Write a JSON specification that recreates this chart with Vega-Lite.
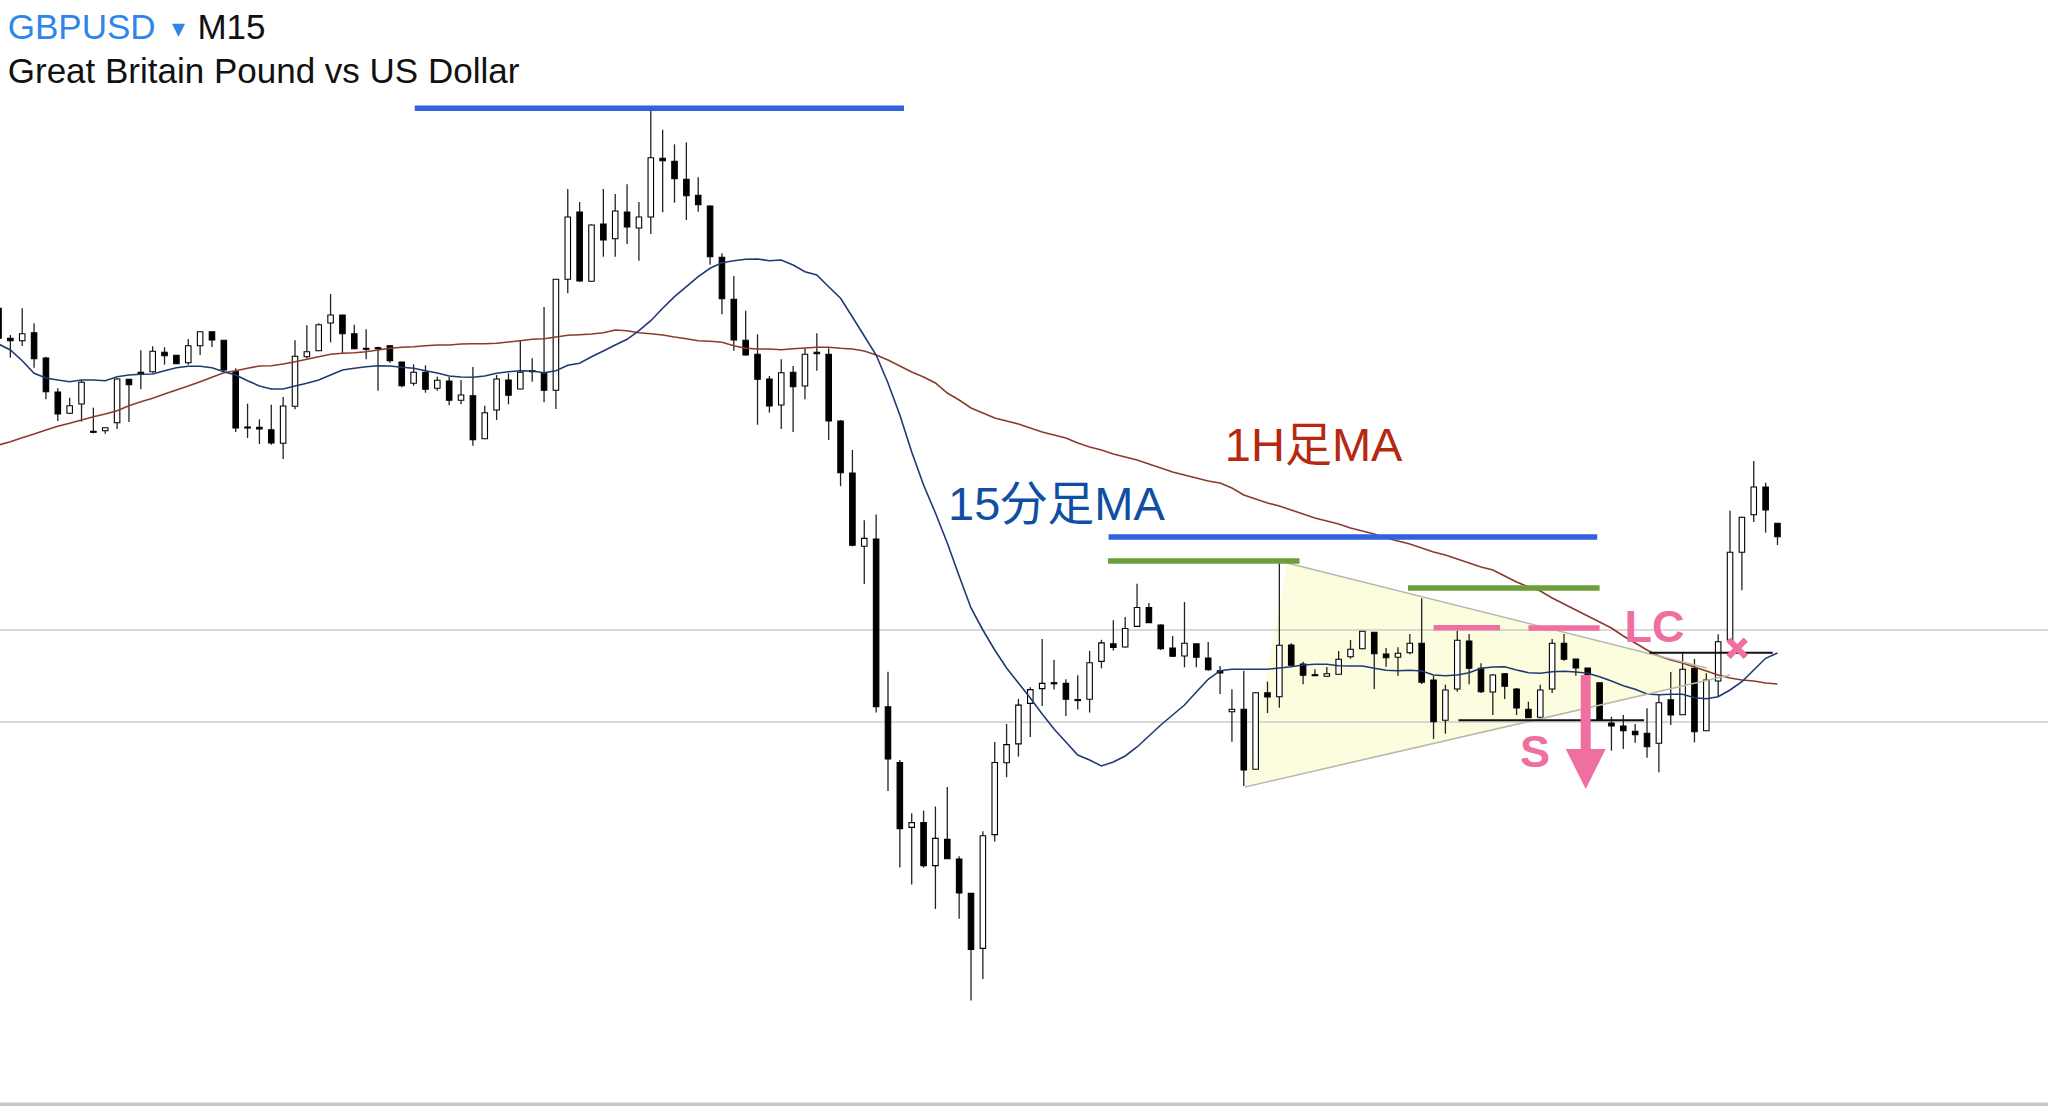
{
  "$schema": "https://vega.github.io/schema/vega-lite/v6.json",
  "width": 2048,
  "height": 1106,
  "padding": 0,
  "autosize": {"type": "none"},
  "background": "#ffffff",
  "config": {"view": {"stroke": null}},
  "datasets": {
    "candles": [
      {"i":0,"open":1.27977,"high":1.27977,"low":1.27677,"close":1.27677},
      {"i":1,"open":1.27677,"high":1.2771,"low":1.27483,"close":1.27653},
      {"i":2,"open":1.27653,"high":1.27977,"low":1.276,"close":1.27723},
      {"i":3,"open":1.27733,"high":1.27827,"low":1.27383,"close":1.27473},
      {"i":4,"open":1.2748,"high":1.27493,"low":1.27067,"close":1.27143},
      {"i":5,"open":1.2714,"high":1.27177,"low":1.2685,"close":1.2692},
      {"i":6,"open":1.26927,"high":1.27083,"low":1.2692,"close":1.27003},
      {"i":7,"open":1.2702,"high":1.2726,"low":1.26843,"close":1.27237},
      {"i":8,"open":1.26747,"high":1.26983,"low":1.26727,"close":1.26737},
      {"i":9,"open":1.26753,"high":1.26783,"low":1.26723,"close":1.26783},
      {"i":10,"open":1.26833,"high":1.27277,"low":1.2677,"close":1.2727},
      {"i":11,"open":1.27267,"high":1.27267,"low":1.2684,"close":1.27213},
      {"i":12,"open":1.27337,"high":1.27557,"low":1.27167,"close":1.27317},
      {"i":13,"open":1.27343,"high":1.27597,"low":1.27333,"close":1.27547},
      {"i":14,"open":1.27537,"high":1.27587,"low":1.27413,"close":1.27503},
      {"i":15,"open":1.27507,"high":1.2751,"low":1.2742,"close":1.27423},
      {"i":16,"open":1.27433,"high":1.2767,"low":1.27413,"close":1.27603},
      {"i":17,"open":1.27603,"high":1.27743,"low":1.2751,"close":1.27743},
      {"i":18,"open":1.27743,"high":1.27743,"low":1.2759,"close":1.2766},
      {"i":19,"open":1.27657,"high":1.27657,"low":1.27343,"close":1.2736},
      {"i":20,"open":1.27343,"high":1.27377,"low":1.2674,"close":1.2678},
      {"i":21,"open":1.2679,"high":1.27023,"low":1.2668,"close":1.2678},
      {"i":22,"open":1.26787,"high":1.26867,"low":1.2662,"close":1.2677},
      {"i":23,"open":1.26763,"high":1.27013,"low":1.26613,"close":1.2663},
      {"i":24,"open":1.26627,"high":1.2709,"low":1.2647,"close":1.27},
      {"i":25,"open":1.26997,"high":1.27657,"low":1.26967,"close":1.27497},
      {"i":26,"open":1.27493,"high":1.27807,"low":1.27477,"close":1.27543},
      {"i":27,"open":1.27553,"high":1.27827,"low":1.2755,"close":1.27813},
      {"i":28,"open":1.2783,"high":1.2812,"low":1.27637,"close":1.2791},
      {"i":29,"open":1.2791,"high":1.2791,"low":1.27527,"close":1.27723},
      {"i":30,"open":1.27723,"high":1.27813,"low":1.27567,"close":1.27573},
      {"i":31,"open":1.27577,"high":1.27767,"low":1.27467,"close":1.27567},
      {"i":32,"open":1.27583,"high":1.27593,"low":1.27153,"close":1.27573},
      {"i":33,"open":1.27603,"high":1.27603,"low":1.27433,"close":1.27453},
      {"i":34,"open":1.2744,"high":1.27443,"low":1.27187,"close":1.27203},
      {"i":35,"open":1.27227,"high":1.27417,"low":1.27203,"close":1.27337},
      {"i":36,"open":1.27337,"high":1.27407,"low":1.27133,"close":1.27167},
      {"i":37,"open":1.27177,"high":1.27293,"low":1.27153,"close":1.27257},
      {"i":38,"open":1.2725,"high":1.27293,"low":1.27007,"close":1.27057},
      {"i":39,"open":1.27057,"high":1.2726,"low":1.27017,"close":1.2711},
      {"i":40,"open":1.27103,"high":1.2739,"low":1.26603,"close":1.26663},
      {"i":41,"open":1.26673,"high":1.27003,"low":1.26673,"close":1.26933},
      {"i":42,"open":1.2696,"high":1.2731,"low":1.2686,"close":1.2727},
      {"i":43,"open":1.2726,"high":1.27327,"low":1.27017,"close":1.27107},
      {"i":44,"open":1.2717,"high":1.2766,"low":1.27167,"close":1.27337},
      {"i":45,"open":1.27353,"high":1.27477,"low":1.27243,"close":1.27343},
      {"i":46,"open":1.27327,"high":1.2799,"low":1.27037,"close":1.27157},
      {"i":47,"open":1.27157,"high":1.28267,"low":1.2697,"close":1.28267},
      {"i":48,"open":1.28267,"high":1.2917,"low":1.28127,"close":1.2889},
      {"i":49,"open":1.2894,"high":1.2904,"low":1.28243,"close":1.2825},
      {"i":50,"open":1.28247,"high":1.28817,"low":1.28243,"close":1.2881},
      {"i":51,"open":1.2882,"high":1.2917,"low":1.28493,"close":1.2866},
      {"i":52,"open":1.28673,"high":1.2912,"low":1.28493,"close":1.2895},
      {"i":53,"open":1.2894,"high":1.29217,"low":1.2862,"close":1.2879},
      {"i":54,"open":1.2878,"high":1.2904,"low":1.28453,"close":1.2889},
      {"i":55,"open":1.2889,"high":1.29953,"low":1.2872,"close":1.29483},
      {"i":56,"open":1.29477,"high":1.29763,"low":1.28937,"close":1.29453},
      {"i":57,"open":1.29447,"high":1.29617,"low":1.29033,"close":1.29273},
      {"i":58,"open":1.29267,"high":1.29637,"low":1.2886,"close":1.29103},
      {"i":59,"open":1.29107,"high":1.29287,"low":1.28943,"close":1.29013},
      {"i":60,"open":1.29,"high":1.29007,"low":1.28413,"close":1.28493},
      {"i":61,"open":1.28487,"high":1.28527,"low":1.27917,"close":1.28073},
      {"i":62,"open":1.28067,"high":1.283,"low":1.27553,"close":1.2766},
      {"i":63,"open":1.27657,"high":1.27953,"low":1.27503,"close":1.2751},
      {"i":64,"open":1.27517,"high":1.27717,"low":1.26813,"close":1.27267},
      {"i":65,"open":1.2727,"high":1.273,"low":1.26933,"close":1.27},
      {"i":66,"open":1.2701,"high":1.27467,"low":1.2677,"close":1.27333},
      {"i":67,"open":1.27337,"high":1.274,"low":1.2674,"close":1.27193},
      {"i":68,"open":1.272,"high":1.27577,"low":1.27067,"close":1.27517},
      {"i":69,"open":1.27537,"high":1.27727,"low":1.27353,"close":1.27523},
      {"i":70,"open":1.27517,"high":1.27577,"low":1.2666,"close":1.2685},
      {"i":71,"open":1.2685,"high":1.2686,"low":1.26198,"close":1.26333},
      {"i":72,"open":1.2633,"high":1.2656,"low":1.25597,"close":1.25607},
      {"i":73,"open":1.25597,"high":1.25858,"low":1.25219,"close":1.25676},
      {"i":74,"open":1.25669,"high":1.25916,"low":1.23934,"close":1.23992},
      {"i":75,"open":1.23992,"high":1.24342,"low":1.2315,"close":1.2347},
      {"i":76,"open":1.23435,"high":1.23459,"low":1.22384,"close":1.22772},
      {"i":77,"open":1.22786,"high":1.22927,"low":1.22215,"close":1.22834},
      {"i":78,"open":1.22834,"high":1.22954,"low":1.22384,"close":1.22404},
      {"i":79,"open":1.22404,"high":1.22995,"low":1.21971,"close":1.22676},
      {"i":80,"open":1.22666,"high":1.23191,"low":1.2247,"close":1.22473},
      {"i":81,"open":1.2247,"high":1.22497,"low":1.21872,"close":1.2213},
      {"i":82,"open":1.22126,"high":1.22126,"low":1.21054,"close":1.21566},
      {"i":83,"open":1.21576,"high":1.22748,"low":1.2127,"close":1.22703},
      {"i":84,"open":1.22714,"high":1.23641,"low":1.22645,"close":1.23435},
      {"i":85,"open":1.23432,"high":1.2382,"low":1.23288,"close":1.23614},
      {"i":86,"open":1.23621,"high":1.24071,"low":1.23494,"close":1.24009},
      {"i":87,"open":1.24026,"high":1.24188,"low":1.2369,"close":1.24164},
      {"i":88,"open":1.24174,"high":1.24669,"low":1.23999,"close":1.24226},
      {"i":89,"open":1.24233,"high":1.24463,"low":1.24164,"close":1.24222},
      {"i":90,"open":1.24226,"high":1.24267,"low":1.23899,"close":1.24068},
      {"i":91,"open":1.24064,"high":1.24308,"low":1.23964,"close":1.24054},
      {"i":92,"open":1.24068,"high":1.24552,"low":1.23934,"close":1.24432},
      {"i":93,"open":1.24446,"high":1.24662,"low":1.24377,"close":1.24631},
      {"i":94,"open":1.24621,"high":1.24858,"low":1.24556,"close":1.24586},
      {"i":95,"open":1.2459,"high":1.24889,"low":1.24586,"close":1.24775},
      {"i":96,"open":1.24796,"high":1.25222,"low":1.2479,"close":1.24985},
      {"i":97,"open":1.24985,"high":1.2503,"low":1.24834,"close":1.24834},
      {"i":98,"open":1.2481,"high":1.24817,"low":1.24559,"close":1.24573},
      {"i":99,"open":1.2458,"high":1.247,"low":1.2449,"close":1.24497},
      {"i":100,"open":1.245,"high":1.2504,"low":1.24387,"close":1.24628},
      {"i":101,"open":1.24621,"high":1.24621,"low":1.24387,"close":1.24487},
      {"i":102,"open":1.2448,"high":1.2464,"low":1.24353,"close":1.24363},
      {"i":103,"open":1.24353,"high":1.244,"low":1.2412,"close":1.2433},
      {"i":104,"open":1.23943,"high":1.24167,"low":1.23643,"close":1.23967},
      {"i":105,"open":1.23967,"high":1.24353,"low":1.232,"close":1.2336},
      {"i":106,"open":1.23367,"high":1.2414,"low":1.23367,"close":1.24133},
      {"i":107,"open":1.24133,"high":1.24243,"low":1.2393,"close":1.2409},
      {"i":108,"open":1.24093,"high":1.25427,"low":1.23983,"close":1.24607},
      {"i":109,"open":1.2461,"high":1.24627,"low":1.244,"close":1.24407},
      {"i":110,"open":1.2442,"high":1.24443,"low":1.24217,"close":1.24307},
      {"i":111,"open":1.24313,"high":1.24367,"low":1.243,"close":1.24303},
      {"i":112,"open":1.24297,"high":1.2439,"low":1.24297,"close":1.24323},
      {"i":113,"open":1.24317,"high":1.2455,"low":1.24317,"close":1.24467},
      {"i":114,"open":1.24493,"high":1.2466,"low":1.24473,"close":1.24567},
      {"i":115,"open":1.24573,"high":1.24747,"low":1.24567,"close":1.24747},
      {"i":116,"open":1.24737,"high":1.24737,"low":1.2417,"close":1.24523},
      {"i":117,"open":1.2452,"high":1.2458,"low":1.24393,"close":1.24483},
      {"i":118,"open":1.24487,"high":1.24587,"low":1.24303,"close":1.24527},
      {"i":119,"open":1.24533,"high":1.2472,"low":1.24517,"close":1.24627},
      {"i":120,"open":1.24627,"high":1.25077,"low":1.2422,"close":1.24237},
      {"i":121,"open":1.2426,"high":1.24303,"low":1.2367,"close":1.23843},
      {"i":122,"open":1.23857,"high":1.24213,"low":1.23723,"close":1.2416},
      {"i":123,"open":1.2417,"high":1.24753,"low":1.24143,"close":1.24657},
      {"i":124,"open":1.2465,"high":1.2472,"low":1.24217,"close":1.24377},
      {"i":125,"open":1.24377,"high":1.24427,"low":1.2413,"close":1.24143},
      {"i":126,"open":1.2414,"high":1.24317,"low":1.2391,"close":1.2431},
      {"i":127,"open":1.24323,"high":1.24327,"low":1.2407,"close":1.24197},
      {"i":128,"open":1.2417,"high":1.2418,"low":1.2391,"close":1.2398},
      {"i":129,"open":1.23967,"high":1.24043,"low":1.23883,"close":1.23883},
      {"i":130,"open":1.23887,"high":1.24213,"low":1.23883,"close":1.2416},
      {"i":131,"open":1.2417,"high":1.2467,"low":1.2413,"close":1.24627},
      {"i":132,"open":1.24627,"high":1.2472,"low":1.24453,"close":1.24467},
      {"i":133,"open":1.2447,"high":1.2447,"low":1.24303,"close":1.2438},
      {"i":134,"open":1.2438,"high":1.2438,"low":1.243,"close":1.24313},
      {"i":135,"open":1.24233,"high":1.24233,"low":1.23857,"close":1.23857},
      {"i":136,"open":1.2383,"high":1.23893,"low":1.23553,"close":1.238},
      {"i":137,"open":1.238,"high":1.2391,"low":1.2357,"close":1.23753},
      {"i":138,"open":1.23747,"high":1.2382,"low":1.23633,"close":1.23713},
      {"i":139,"open":1.23727,"high":1.23977,"low":1.23483,"close":1.23593},
      {"i":140,"open":1.23627,"high":1.2411,"low":1.23337,"close":1.24033},
      {"i":141,"open":1.24063,"high":1.2434,"low":1.2381,"close":1.2391},
      {"i":142,"open":1.23913,"high":1.24527,"low":1.23913,"close":1.24367},
      {"i":143,"open":1.24377,"high":1.2447,"low":1.23637,"close":1.23743},
      {"i":144,"open":1.23753,"high":1.24327,"low":1.23753,"close":1.2426},
      {"i":145,"open":1.2425,"high":1.24717,"low":1.24093,"close":1.24643},
      {"i":146,"open":1.2466,"high":1.25953,"low":1.2466,"close":1.25537},
      {"i":147,"open":1.25537,"high":1.25893,"low":1.25157,"close":1.25887},
      {"i":148,"open":1.25913,"high":1.2645,"low":1.2584,"close":1.2619},
      {"i":149,"open":1.2619,"high":1.26233,"low":1.25733,"close":1.2596},
      {"i":150,"open":1.25827,"high":1.25827,"low":1.2561,"close":1.25693}
    ],
    "ma": [
      {"i":0,"ma15":1.2762,"ma60":1.2661},{"i":1,"ma15":1.2756,"ma60":1.26643},{"i":2,"ma15":1.27453,"ma60":1.26683},{"i":3,"ma15":1.27327,"ma60":1.2672},{"i":4,"ma15":1.2728,"ma60":1.2676},
      {"i":5,"ma15":1.2726,"ma60":1.26797},{"i":6,"ma15":1.27243,"ma60":1.26827},{"i":7,"ma15":1.2726,"ma60":1.2686},{"i":8,"ma15":1.2726,"ma60":1.26893},{"i":9,"ma15":1.27253,"ma60":1.2692},
      {"i":10,"ma15":1.27293,"ma60":1.26953},{"i":11,"ma15":1.2731,"ma60":1.27003},{"i":12,"ma15":1.27317,"ma60":1.27043},{"i":13,"ma15":1.2732,"ma60":1.27077},{"i":14,"ma15":1.27353,"ma60":1.2712},
      {"i":15,"ma15":1.27383,"ma60":1.2716},{"i":16,"ma15":1.27397,"ma60":1.272},{"i":17,"ma15":1.27397,"ma60":1.27243},{"i":18,"ma15":1.27383,"ma60":1.27287},{"i":19,"ma15":1.27343,"ma60":1.27333},
      {"i":20,"ma15":1.2731,"ma60":1.27353},{"i":21,"ma15":1.27253,"ma60":1.27377},{"i":22,"ma15":1.272,"ma60":1.274},{"i":23,"ma15":1.2717,"ma60":1.27403},{"i":24,"ma15":1.2717,"ma60":1.2742},
      {"i":25,"ma15":1.272,"ma60":1.27443},{"i":26,"ma15":1.27227,"ma60":1.27467},{"i":27,"ma15":1.2726,"ma60":1.27493},{"i":28,"ma15":1.2731,"ma60":1.27517},{"i":29,"ma15":1.2736,"ma60":1.27527},
      {"i":30,"ma15":1.27377,"ma60":1.27533},{"i":31,"ma15":1.27393,"ma60":1.27543},{"i":32,"ma15":1.27403,"ma60":1.2756},{"i":33,"ma15":1.274,"ma60":1.27577},{"i":34,"ma15":1.27387,"ma60":1.27587},
      {"i":35,"ma15":1.27377,"ma60":1.27593},{"i":36,"ma15":1.27353,"ma60":1.27603},{"i":37,"ma15":1.2733,"ma60":1.2761},{"i":38,"ma15":1.273,"ma60":1.2761},{"i":39,"ma15":1.2729,"ma60":1.2762},
      {"i":40,"ma15":1.27287,"ma60":1.27623},{"i":41,"ma15":1.273,"ma60":1.27623},{"i":42,"ma15":1.27327,"ma60":1.27627},{"i":43,"ma15":1.27343,"ma60":1.2764},{"i":44,"ma15":1.27353,"ma60":1.27653},
      {"i":45,"ma15":1.2735,"ma60":1.27667},{"i":46,"ma15":1.27333,"ma60":1.27673},{"i":47,"ma15":1.27353,"ma60":1.2769},{"i":48,"ma15":1.27407,"ma60":1.27707},{"i":49,"ma15":1.27427,"ma60":1.27713},
      {"i":50,"ma15":1.27493,"ma60":1.2772},{"i":51,"ma15":1.2755,"ma60":1.27733},{"i":52,"ma15":1.2761,"ma60":1.2776},{"i":53,"ma15":1.27667,"ma60":1.27753},{"i":54,"ma15":1.27753,"ma60":1.27733},
      {"i":55,"ma15":1.27853,"ma60":1.27723},{"i":56,"ma15":1.27977,"ma60":1.2771},{"i":57,"ma15":1.28093,"ma60":1.2769},{"i":58,"ma15":1.28193,"ma60":1.27673},{"i":59,"ma15":1.28293,"ma60":1.27653},
      {"i":60,"ma15":1.28377,"ma60":1.27647},{"i":61,"ma15":1.28433,"ma60":1.27637},{"i":62,"ma15":1.28453,"ma60":1.27603},{"i":63,"ma15":1.28467,"ma60":1.27577},{"i":64,"ma15":1.2847,"ma60":1.2757},
      {"i":65,"ma15":1.28453,"ma60":1.2757},{"i":66,"ma15":1.2846,"ma60":1.27563},{"i":67,"ma15":1.2841,"ma60":1.27573},{"i":68,"ma15":1.28343,"ma60":1.2758},{"i":69,"ma15":1.2831,"ma60":1.27587},
      {"i":70,"ma15":1.28193,"ma60":1.27587},{"i":71,"ma15":1.28077,"ma60":1.27577},{"i":72,"ma15":1.2789,"ma60":1.2757},{"i":73,"ma15":1.277,"ma60":1.2755},{"i":74,"ma15":1.2751,"ma60":1.2751},
      {"i":75,"ma15":1.2723,"ma60":1.2746},{"i":76,"ma15":1.2691,"ma60":1.274},{"i":77,"ma15":1.2654,"ma60":1.2734},{"i":78,"ma15":1.2621,"ma60":1.2729},{"i":79,"ma15":1.2593,"ma60":1.2723},
      {"i":80,"ma15":1.2563,"ma60":1.2713},{"i":81,"ma15":1.253,"ma60":1.2706},{"i":82,"ma15":1.2498,"ma60":1.2698},{"i":83,"ma15":1.2476,"ma60":1.2693},{"i":84,"ma15":1.2456,"ma60":1.2688},
      {"i":85,"ma15":1.2438,"ma60":1.2685},{"i":86,"ma15":1.2423,"ma60":1.2682},{"i":87,"ma15":1.2408,"ma60":1.2678},{"i":88,"ma15":1.2392,"ma60":1.2674},{"i":89,"ma15":1.2377,"ma60":1.2671},
      {"i":90,"ma15":1.2364,"ma60":1.2668},{"i":91,"ma15":1.2351,"ma60":1.2663},{"i":92,"ma15":1.2346,"ma60":1.2659},{"i":93,"ma15":1.234,"ma60":1.2656},{"i":94,"ma15":1.2344,"ma60":1.2652},
      {"i":95,"ma15":1.235,"ma60":1.2649},{"i":96,"ma15":1.2359,"ma60":1.2646},{"i":97,"ma15":1.237,"ma60":1.2642},{"i":98,"ma15":1.2381,"ma60":1.2638},{"i":99,"ma15":1.2391,"ma60":1.2634},
      {"i":100,"ma15":1.2401,"ma60":1.2631},{"i":101,"ma15":1.2414,"ma60":1.2628},{"i":102,"ma15":1.24267,"ma60":1.2625},{"i":103,"ma15":1.24353,"ma60":1.2623},{"i":104,"ma15":1.24367,"ma60":1.2618},
      {"i":105,"ma15":1.24367,"ma60":1.2611},{"i":106,"ma15":1.24367,"ma60":1.2607},{"i":107,"ma15":1.24367,"ma60":1.2603},{"i":108,"ma15":1.2438,"ma60":1.26},{"i":109,"ma15":1.24393,"ma60":1.2596},
      {"i":110,"ma15":1.2441,"ma60":1.2592},{"i":111,"ma15":1.24417,"ma60":1.2588},{"i":112,"ma15":1.24417,"ma60":1.2585},{"i":113,"ma15":1.24403,"ma60":1.2582},{"i":114,"ma15":1.244,"ma60":1.2578},
      {"i":115,"ma15":1.244,"ma60":1.2575},{"i":116,"ma15":1.24377,"ma60":1.2572},{"i":117,"ma15":1.24357,"ma60":1.2568},{"i":118,"ma15":1.24353,"ma60":1.2565},{"i":119,"ma15":1.24357,"ma60":1.2562},
      {"i":120,"ma15":1.2435,"ma60":1.2558},{"i":121,"ma15":1.2431,"ma60":1.2554},{"i":122,"ma15":1.24303,"ma60":1.2551},{"i":123,"ma15":1.2431,"ma60":1.2547},{"i":124,"ma15":1.24333,"ma60":1.2543},
      {"i":125,"ma15":1.24377,"ma60":1.2539},{"i":126,"ma15":1.2439,"ma60":1.2536},{"i":127,"ma15":1.24393,"ma60":1.253},{"i":128,"ma15":1.2436,"ma60":1.2524},{"i":129,"ma15":1.24333,"ma60":1.2519},
      {"i":130,"ma15":1.24327,"ma60":1.2515},{"i":131,"ma15":1.24343,"ma60":1.2508},{"i":132,"ma15":1.24347,"ma60":1.2502},{"i":133,"ma15":1.2434,"ma60":1.2496},{"i":134,"ma15":1.24327,"ma60":1.249},
      {"i":135,"ma15":1.24293,"ma60":1.2484},{"i":136,"ma15":1.2425,"ma60":1.2478},{"i":137,"ma15":1.24203,"ma60":1.247},{"i":138,"ma15":1.24167,"ma60":1.2463},{"i":139,"ma15":1.2412,"ma60":1.2456},
      {"i":140,"ma15":1.24113,"ma60":1.245},{"i":141,"ma15":1.24117,"ma60":1.2446},{"i":142,"ma15":1.24117,"ma60":1.2443},{"i":143,"ma15":1.24083,"ma60":1.2439},{"i":144,"ma15":1.24073,"ma60":1.2435},
      {"i":145,"ma15":1.24093,"ma60":1.2431},{"i":146,"ma15":1.2416,"ma60":1.2428},{"i":147,"ma15":1.24243,"ma60":1.2426},{"i":148,"ma15":1.2436,"ma60":1.2425},{"i":149,"ma15":1.24477,"ma60":1.2423},
      {"i":150,"ma15":1.2453,"ma60":1.2422}
    ],
    "pennant": [
      {"i":105.1,"top":1.2319,"bottom":1.2319},
      {"i":108.65,"top":1.2543,"bottom":1.2329},
      {"i":144.3,"top":1.2437,"bottom":1.2426}
    ],
    "edges": [
      {"x1":108.65,"x2":144.03,"y1":1.2543,"y2":1.2438},
      {"x1":105.1,"x2":146,"y1":1.2319,"y2":1.2431}
    ],
    "levels": [
      {"kind":"grid","from":0.13,"to":172.81,"level":1.2476},
      {"kind":"grid","from":0.13,"to":172.81,"level":1.2384},
      {"kind":"floor","from":0.13,"to":172.81,"level":1.20018},
      {"kind":"blue","from":35.1,"to":76.35,"level":1.29977},
      {"kind":"blue","from":93.6,"to":134.8,"level":1.2569},
      {"kind":"green","from":93.55,"to":109.7,"level":1.2545},
      {"kind":"green","from":118.85,"to":135,"level":1.2518},
      {"kind":"pink","from":121,"to":126.6,"level":1.24783},
      {"kind":"pink","from":129,"to":135,"level":1.2478},
      {"kind":"black","from":123.1,"to":138.75,"level":1.23857},
      {"kind":"black","from":139.2,"to":149.6,"level":1.24533}
    ],
    "arrow": [{"i":133.83,"from":1.2431,"to":1.2357,"tip":1.2337}],
    "dropdown": [{"i":15.18,"level":1.30757}],
    "stop": [{"i":146.6,"level":1.24577}],
    "labels": [
      {"group":"symbol","text":"GBPUSD","i":0.78,"level":1.30667},
      {"group":"black","text":"M15","i":16.77,"level":1.30667},
      {"group":"black","text":"Great Britain Pound vs US Dollar","i":0.78,"level":1.30227},
      {"group":"ma15","text":"15分足MA","i":80.06,"level":1.25865},
      {"group":"ma60","text":"1H足MA","i":103.4,"level":1.2645},
      {"group":"pink","text":"LC","i":137.1,"level":1.24643},
      {"group":"pink","text":"S","i":128.3,"level":1.23393}
    ]
  },
  "encoding": {
    "x": {"type": "quantitative", "scale": {"domain": [0.1265, 172.81], "nice": false, "zero": false, "padding": 0}, "axis": null},
    "y": {"type": "quantitative", "scale": {"domain": [1.2, 1.3106], "nice": false, "zero": false, "padding": 0}, "axis": null}
  },
  "layer": [
    {
      "data": {"name": "pennant"},
      "mark": {"type": "area", "color": "#fcfcdf", "clip": true},
      "encoding": {"x": {"field": "i"}, "y": {"field": "top"}, "y2": {"field": "bottom"}}
    },
    {
      "data": {"name": "levels"},
      "transform": [{"filter": "datum.kind == 'grid'"}],
      "mark": {"type": "rule", "color": "#cccccc", "strokeWidth": 1.4},
      "encoding": {"x": {"field": "from"}, "x2": {"field": "to"}, "y": {"field": "level"}}
    },
    {
      "data": {"name": "levels"},
      "transform": [{"filter": "datum.kind == 'floor'"}],
      "mark": {"type": "rule", "color": "#c8c8c8", "strokeWidth": 3.6},
      "encoding": {"x": {"field": "from"}, "x2": {"field": "to"}, "y": {"field": "level"}}
    },
    {
      "data": {"name": "candles"},
      "mark": {"type": "rule", "color": "#222222", "strokeWidth": 1.3, "clip": true},
      "encoding": {"x": {"field": "i"}, "y": {"field": "low"}, "y2": {"field": "high"}}
    },
    {
      "data": {"name": "candles"},
      "mark": {"type": "bar", "size": 5.5, "orient": "vertical", "stroke": "#000000", "strokeWidth": 1.1, "clip": true},
      "encoding": {
        "x": {"field": "i"},
        "y": {"field": "open"},
        "y2": {"field": "close"},
        "color": {"condition": {"test": "datum.close < datum.open", "value": "#000000"}, "value": "#ffffff"}
      }
    },
    {
      "data": {"name": "ma"},
      "mark": {"type": "line", "color": "#8a3b2e", "strokeWidth": 1.6, "clip": true},
      "encoding": {"x": {"field": "i"}, "y": {"field": "ma60"}}
    },
    {
      "data": {"name": "ma"},
      "mark": {"type": "line", "color": "#1f3a73", "strokeWidth": 1.6, "clip": true},
      "encoding": {"x": {"field": "i"}, "y": {"field": "ma15"}}
    },
    {
      "data": {"name": "edges"},
      "mark": {"type": "rule", "color": "#b9b9ad", "strokeWidth": 1.6},
      "encoding": {"x": {"field": "x1"}, "x2": {"field": "x2"}, "y": {"field": "y1"}, "y2": {"field": "y2"}}
    },
    {
      "data": {"name": "levels"},
      "transform": [{"filter": "datum.kind == 'blue'"}],
      "mark": {"type": "rule", "color": "#2f62dc", "strokeWidth": 5.5},
      "encoding": {"x": {"field": "from"}, "x2": {"field": "to"}, "y": {"field": "level"}}
    },
    {
      "data": {"name": "levels"},
      "transform": [{"filter": "datum.kind == 'green'"}],
      "mark": {"type": "rule", "color": "#6c9e3a", "strokeWidth": 5.5},
      "encoding": {"x": {"field": "from"}, "x2": {"field": "to"}, "y": {"field": "level"}}
    },
    {
      "data": {"name": "levels"},
      "transform": [{"filter": "datum.kind == 'pink'"}],
      "mark": {"type": "rule", "color": "#ee6fa0", "strokeWidth": 5.5},
      "encoding": {"x": {"field": "from"}, "x2": {"field": "to"}, "y": {"field": "level"}}
    },
    {
      "data": {"name": "levels"},
      "transform": [{"filter": "datum.kind == 'black'"}],
      "mark": {"type": "rule", "color": "#111111", "strokeWidth": 2},
      "encoding": {"x": {"field": "from"}, "x2": {"field": "to"}, "y": {"field": "level"}}
    },
    {
      "data": {"name": "arrow"},
      "mark": {"type": "rule", "color": "#ee6fa0", "strokeWidth": 10},
      "encoding": {"x": {"field": "i"}, "y": {"field": "from"}, "y2": {"field": "to"}}
    },
    {
      "data": {"name": "arrow"},
      "mark": {"type": "point", "shape": "M-1,-1L1,-1L0,1Z", "filled": true, "size": 1600, "color": "#ee6fa0", "opacity": 1},
      "encoding": {"x": {"field": "i"}, "y": {"field": "tip"}}
    },
    {
      "data": {"name": "dropdown"},
      "mark": {"type": "point", "shape": "M-1,-1L1,-1L0,1Z", "filled": true, "size": 169, "color": "#2f86e8", "opacity": 1},
      "encoding": {"x": {"field": "i"}, "y": {"field": "level"}}
    },
    {
      "data": {"name": "stop"},
      "mark": {"type": "point", "shape": "M-1,-1L1,1M-1,1L1,-1", "filled": false, "size": 300, "stroke": "#ee6fa0", "strokeWidth": 6, "opacity": 1},
      "encoding": {"x": {"field": "i"}, "y": {"field": "level"}}
    },
    {
      "data": {"name": "labels"},
      "transform": [{"filter": "datum.group == 'symbol'"}],
      "mark": {"type": "text", "align": "left", "baseline": "alphabetic", "font": "Liberation Sans", "fontSize": 35, "color": "#2f86e8"},
      "encoding": {"x": {"field": "i"}, "y": {"field": "level"}, "text": {"field": "text"}}
    },
    {
      "data": {"name": "labels"},
      "transform": [{"filter": "datum.group == 'black'"}],
      "mark": {"type": "text", "align": "left", "baseline": "alphabetic", "font": "Liberation Sans", "fontSize": 35, "color": "#111111"},
      "encoding": {"x": {"field": "i"}, "y": {"field": "level"}, "text": {"field": "text"}}
    },
    {
      "data": {"name": "labels"},
      "transform": [{"filter": "datum.group == 'ma15'"}],
      "mark": {"type": "text", "align": "left", "baseline": "alphabetic", "font": "Liberation Sans, Noto Sans CJK JP", "fontSize": 47, "color": "#0f4fa3"},
      "encoding": {"x": {"field": "i"}, "y": {"field": "level"}, "text": {"field": "text"}}
    },
    {
      "data": {"name": "labels"},
      "transform": [{"filter": "datum.group == 'ma60'"}],
      "mark": {"type": "text", "align": "left", "baseline": "alphabetic", "font": "Liberation Sans, Noto Sans CJK JP", "fontSize": 47, "color": "#b5290f"},
      "encoding": {"x": {"field": "i"}, "y": {"field": "level"}, "text": {"field": "text"}}
    },
    {
      "data": {"name": "labels"},
      "transform": [{"filter": "datum.group == 'pink'"}],
      "mark": {"type": "text", "align": "left", "baseline": "alphabetic", "font": "Liberation Sans", "fontWeight": "bold", "fontSize": 45, "color": "#ee6fa0"},
      "encoding": {"x": {"field": "i"}, "y": {"field": "level"}, "text": {"field": "text"}}
    }
  ]
}
